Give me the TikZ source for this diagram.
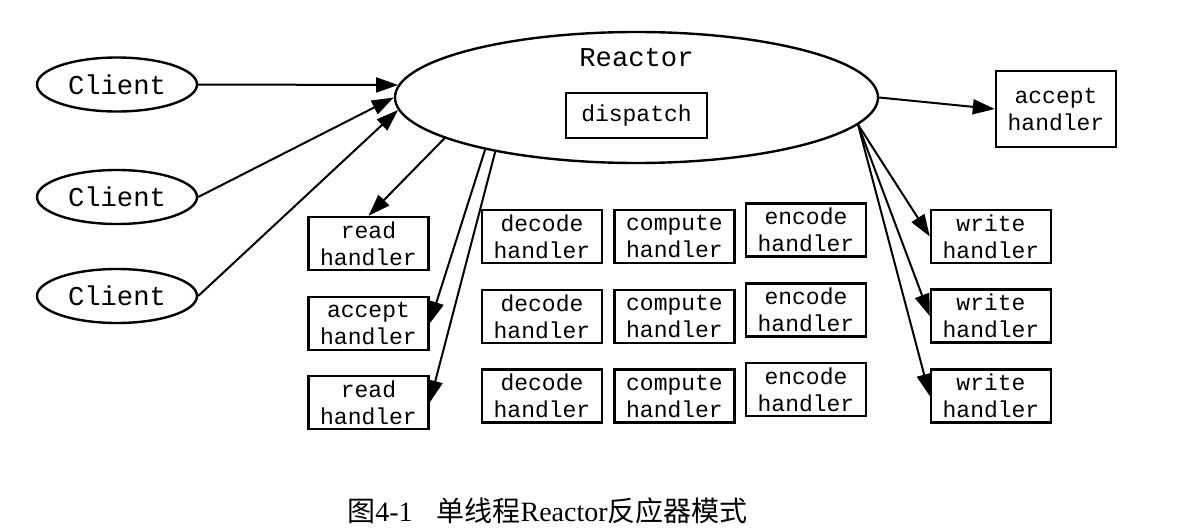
\documentclass[tikz,border=0pt]{standalone}
\usepackage{fontspec}
\setmainfont{Liberation Serif}
\setmonofont{Liberation Mono}
\newfontfamily\cjk{Noto Sans CJK SC}
\usetikzlibrary{shapes.geometric,arrows.meta}

\begin{document}
\begin{tikzpicture}[x=0.5pt,y=-0.5pt,
  box/.style={draw,rectangle,line width=1.2pt,minimum width=60pt,minimum height=26.5pt,inner sep=0pt,align=center,font=\ttfamily\fontsize{11.5}{13.5}\selectfont},
  oval/.style={draw,ellipse,line width=1.2pt,inner sep=0pt,font=\ttfamily\fontsize{13.6}{16}\selectfont},
  line/.style={-{Triangle[length=11pt,width=7.5pt]},line width=1pt}]
 \def\xleft{368.5} % column of the read/accept handlers
 \def\xwrite{991}   % column of the write handlers
 \pgfmathsetmacro{\xreactor}{636.5}
 \pgfmathsetmacro{\yreactor}{97.5}

 % size of the page
 \useasboundingbox (0,0) rectangle (1185,530);

% the reactor with its dispatch box
\node[oval, minimum width=241.5pt, minimum height=65.5pt] (reactor) at (\xreactor,\yreactor) {};
\node[font=\ttfamily\fontsize{13.6}{16}\selectfont] (reactorname) at (\xreactor,58) {Reactor};
\node[box, minimum width=70.5pt, minimum height=22.5pt] (dispatch) at (\xreactor,115.5) {dispatch};

% clients on the left
\foreach \c/\y in {1/84.5, 2/197, 3/296}
  \node[oval, minimum width=80pt, minimum height=27pt] (client\c) at (117,\y) {Client};
\draw[line] (client1.east) -- (reactor.177);
\draw[line] (client2.east) -- (reactor.west);
\draw[line] (client3.east) -- (reactor.183);

% handlers below the reactor on the left
\node[box] (readA) at (\xleft,243.5) {read\\handler};
\node[box] (acceptA) at (\xleft,323.5) {accept\\handler};
\node[box] (readB) at (\xleft,402.5) {read\\handler};
\draw[line] (reactor.192) -- (readA.north);
\draw[line] (reactor.199) -- (acceptA.east);
\draw[line] (reactor.201) -- (readB.east);

% decode, compute and encode handlers (no edges)
\foreach \r/\y in {1/236.5, 2/316.5, 3/396}{
  \node[box] (decode\r) at (542,\y) {decode\\handler};
  \node[box] (compute\r) at (674.5,\y) {compute\\handler};
  \node[box] (encode\r) at (806,\y-6.5) {encode\\handler};
}

% accept handler on the right
\node[box, minimum height=38pt] (acceptR) at (1056,109) {accept\\handler};
\draw[line] (reactor.east) -- (acceptR.west);

% write handlers
\foreach \r/\y in {1/236.5, 2/316, 3/396}{
  \node[box] (write\r) at (\xwrite,\y) {write\\handler};
  \draw[line] (reactor.-7) -- (write\r.west);
}

% caption
\node[font=\fontsize{14}{16}\selectfont] (caption) at (547.5,511) {{\cjk 图}4-1\hspace{12pt}{\cjk 单线程}Reactor{\cjk 反应器模式}};

\end{tikzpicture}
\end{document}
